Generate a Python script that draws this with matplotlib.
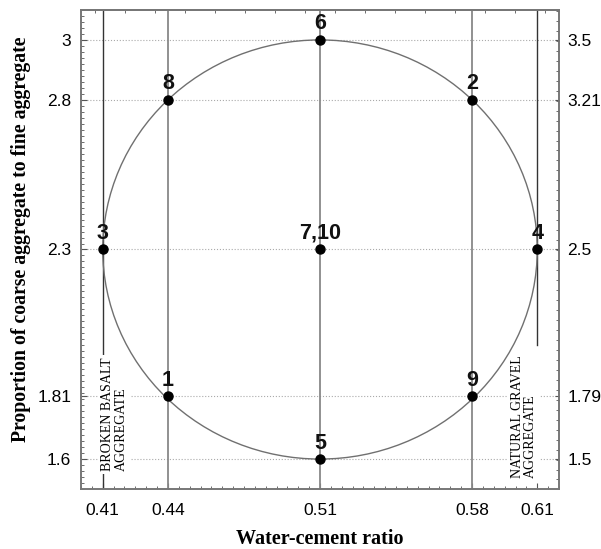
import numpy as np
import matplotlib.pyplot as plt
from matplotlib.patches import Ellipse
from matplotlib.ticker import MultipleLocator

# design points (water-cement ratio, coarse/fine aggregate ratio)
pt_labels = ['1', '2', '3', '4', '5', '6', '7,10', '8', '9']
pt_x = [0.44, 0.58, 0.41, 0.61, 0.51, 0.51, 0.51, 0.44, 0.58]
pt_y = [1.81, 2.8, 2.3, 2.3, 1.6, 3.0, 2.3, 2.8, 1.81]

x_ticks = [0.41, 0.44, 0.51, 0.58, 0.61]
y_ticks = [1.6, 1.81, 2.3, 2.8, 3.0]
y_left_labels = ['1.6', '1.81', '2.3', '2.8', '3']
y_right_labels = ['1.5', '1.79', '2.5', '3.21', '3.5']

center = (0.51, 2.3)
width, height = 0.2, 1.4

fig = plt.figure(figsize=(6.01, 5.49), dpi=100)
ax = fig.add_axes([0.1348, 0.1093, 0.7953, 0.8725])
ax.set_xlim(0.40, 0.62)
ax.set_ylim(1.5, 3.1)

# dotted grid at labelled y values
for yv in y_ticks:
    ax.axhline(yv, color='#aaaaaa', lw=0.8, ls=':', zorder=1)

# vertical levels
for xv in [0.44, 0.51, 0.58]:
    ax.axvline(xv, color='#888888', lw=1.3, zorder=2)
ax.axvline(0.41, color='#333333', lw=1.0, zorder=2)
ax.plot([0.61, 0.61], [1.98, 3.1], color='#333333', lw=1.0, zorder=2)

ax.add_patch(Ellipse(center, width, height, fill=False, ec='#707070', lw=1.0, zorder=4.5))

ax.plot(pt_x, pt_y, 'o', color='black', ms=6.5, zorder=5)
for lab, xv, yv in zip(pt_labels, pt_x, pt_y):
    ax.annotate(lab, (xv, yv), xytext=(0, 4), textcoords='offset points',
                ha='center', va='bottom', fontsize=15.5, fontweight='bold',
                family='Liberation Sans', color='#111111', zorder=6)

box = dict(facecolor='white', edgecolor='none', pad=2)
ax.text(0.4154, 1.75, 'BROKEN BASALT\nAGGREGATE', rotation=90, ha='center', va='center',
        multialignment='left', fontsize=10, family='Liberation Serif', bbox=box, zorder=4,
        linespacing=1.05)
ax.text(0.6039, 1.742, 'NATURAL GRAVEL\nAGGREGATE', rotation=90, ha='center', va='center',
        multialignment='left', fontsize=10, family='Liberation Serif', bbox=box, zorder=4,
        linespacing=1.05)

# ticks
ax.set_xticks(x_ticks)
ax.set_xticklabels([str(v) for v in x_ticks])
ax.set_yticks(y_ticks)
ax.set_yticklabels(y_left_labels)
ax.xaxis.set_minor_locator(MultipleLocator(0.005))
ax.yaxis.set_minor_locator(MultipleLocator(0.02))
ax.tick_params(which='major', direction='in', length=4, width=0.8, color='#555555',
               labelsize=12.5, pad=7)
ax.tick_params(axis='x', which='major', pad=10)
ax.tick_params(which='minor', direction='in', length=2, width=0.6, color='#555555')
for t in ax.get_xticklabels() + ax.get_yticklabels():
    t.set_family('Liberation Sans')

ax2 = ax.twinx()
ax2.set_ylim(ax.get_ylim())
ax2.set_yticks(y_ticks)
ax2.set_yticklabels(y_right_labels)
ax2.yaxis.set_minor_locator(MultipleLocator(0.0333))
ax2.tick_params(which='major', direction='in', length=3, width=0.8, color='#555555',
                labelsize=12.5, pad=6)
ax2.tick_params(which='minor', direction='in', length=2, width=0.6, color='#555555')
for t in ax2.get_yticklabels():
    t.set_family('Liberation Sans')

top = ax.secondary_xaxis('top')
top.set_xticks(list(np.arange(0.4066, 0.62, 0.0138)))
top.tick_params(direction='in', length=2, width=0.6, color='#555555', labeltop=False)

for a in (ax, ax2):
    for s in a.spines.values():
        s.set_color('#777777')
        s.set_linewidth(1.2)
top.spines['top'].set_color('#777777')
top.spines['top'].set_linewidth(1.2)

ax.set_xlabel('Water-cement ratio', family='Liberation Serif', fontweight='bold',
              fontsize=14.5, labelpad=8)
ax.set_ylabel('Proportion of coarse aggregate to fine aggregate', family='Liberation Serif',
              fontweight='bold', fontsize=14.2)
ax.yaxis.set_label_coords(-0.105, 0.522)

fig.savefig('out.png', dpi=100)
